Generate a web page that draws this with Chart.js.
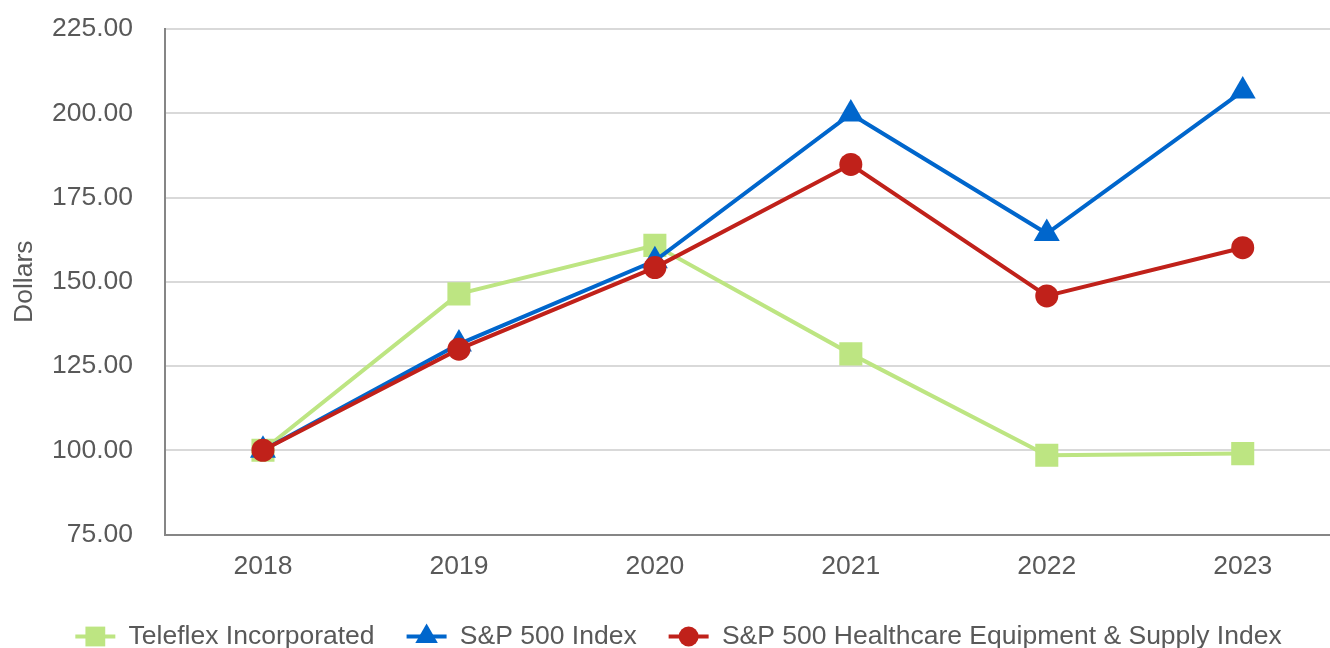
<!DOCTYPE html>
<html lang="en">
<head>
    <meta charset="UTF-8">
    <title>Cumulative Total Return</title>
    <script src="https://cdn.jsdelivr.net/npm/chart.js"></script>
    <style>
        html, body {
            margin: 0;
            padding: 0;
            overflow: hidden;
            background: #fff;
            font-family: "Liberation Sans", Arial, sans-serif;
        }
        .chart-container {
            position: relative;
            width: 1357px;
            height: 660px;
        }
    </style>
</head>
<body>
    <div class="chart-container">
        <canvas id="lineChart"></canvas>
    </div>

    <script>
        // values
        const years = ['2018', '2019', '2020', '2021', '2022', '2023'];
        const teleflex = [100.00, 146.4, 160.8, 128.6, 98.5, 99.0];
        const sp500 = [100.00, 131.5, 156.2, 199.8, 164.3, 206.6];
        const spHealthcare = [100.00, 130.0, 154.2, 184.8, 145.8, 160.1];
        const yTicks = [75, 100, 125, 150, 175, 200, 225];

        const textColor = '#595959';
        const font = { family: '"Liberation Sans", Arial, sans-serif', size: 26.5 };

        // marker sizes per series, also used for the legend
        const markers = [
            { style: 'rect', radius: 16.3, color: '#bde582' },
            { style: 'triangle', radius: 15, color: '#0066cc' },
            { style: 'circle', radius: 11.5, color: '#c0211a' }
        ];

        function makeDataset(label, values, m, order) {
            return {
                label: label,
                data: values,
                borderColor: m.color,
                backgroundColor: m.color,
                borderWidth: 4,
                pointStyle: m.style,
                pointRadius: m.radius,
                pointHoverRadius: m.radius,
                pointBorderWidth: 0,
                pointBackgroundColor: m.color,
                tension: 0,
                order: order
            };
        }

        // legend: line + marker drawn with the library's point helper
        const legendMarkers = {
            id: 'legendMarkers',
            afterDraw(chart) {
                const legend = chart.legend;
                if (!legend || !legend.legendHitBoxes) return;
                const ctx = chart.ctx;
                legend.legendHitBoxes.forEach((box, i) => {
                    const item = legend.legendItems[i];
                    const m = markers[item.datasetIndex];
                    const cy = box.top + 13;
                    ctx.save();
                    ctx.strokeStyle = m.color;
                    ctx.lineWidth = 4;
                    ctx.beginPath();
                    ctx.moveTo(box.left, cy);
                    ctx.lineTo(box.left + 40, cy);
                    ctx.stroke();
                    ctx.fillStyle = m.color;
                    ctx.strokeStyle = m.color;
                    Chart.helpers.drawPoint(ctx, {
                        pointStyle: m.style,
                        radius: m.style === 'circle' ? 10 : (m.style === 'rect' ? 14 : 13),
                        rotation: 0,
                        borderWidth: 0
                    }, box.left + 20, cy);
                    ctx.restore();
                });
            }
        };

        const ctx = document.getElementById('lineChart').getContext('2d');
        const chart = new Chart(ctx, {
            type: 'line',
            data: {
                labels: years,
                datasets: [
                    makeDataset('Teleflex Incorporated', teleflex, markers[0], 3),
                    makeDataset('S&P 500 Index', sp500, markers[1], 2),
                    makeDataset('S&P 500 Healthcare Equipment & Supply Index', spHealthcare, markers[2], 1)
                ]
            },
            options: {
                responsive: true,
                maintainAspectRatio: false,
                animation: false,
                layout: {
                    padding: { top: 29, right: 0, bottom: 0, left: 0 }
                },
                plugins: {
                    tooltip: { enabled: false },
                    legend: {
                        position: 'bottom',
                        labels: {
                            font: font,
                            color: textColor,
                            boxWidth: 40,
                            boxHeight: 20,
                            padding: 32,
                            usePointStyle: false,
                            sort: (a, b) => a.datasetIndex - b.datasetIndex,
                            generateLabels(chart) {
                                return chart.data.datasets.map((ds, i) => ({
                                    text: ds.label,
                                    fillStyle: 'rgba(0,0,0,0)',
                                    strokeStyle: 'rgba(0,0,0,0)',
                                    lineWidth: 0,
                                    fontColor: textColor,
                                    hidden: false,
                                    datasetIndex: i
                                }));
                            }
                        }
                    }
                },
                scales: {
                    x: {
                        offset: true,
                        grid: { display: false, drawTicks: false },
                        border: { display: true, color: '#868686', width: 2 },
                        ticks: { font: font, color: textColor, padding: 16, maxRotation: 0 },
                        afterFit(scale) {
                            scale.height = 57;
                            scale.paddingLeft = 0;
                            scale.paddingRight = 0;
                        }
                    },
                    y: {
                        min: 75,
                        max: 225,
                        afterBuildTicks(scale) {
                            scale.ticks = yTicks.map(v => ({ value: v }));
                        },
                        grid: { color: '#d9d9d9', lineWidth: 2, drawTicks: false },
                        border: { display: true, color: '#868686', width: 2 },
                        ticks: {
                            font: font,
                            color: textColor,
                            padding: 32,
                            callback: v => Number(v).toFixed(2)
                        },
                        title: {
                            display: true,
                            text: 'Dollars',
                            font: font,
                            color: textColor,
                            padding: { top: 9, bottom: 0 }
                        },
                        afterFit(scale) {
                            scale.width = 165;
                            scale.paddingTop = 0;
                            scale.paddingBottom = 0;
                        }
                    }
                }
            },
            plugins: [legendMarkers]
        });
    </script>
</body>
</html>
